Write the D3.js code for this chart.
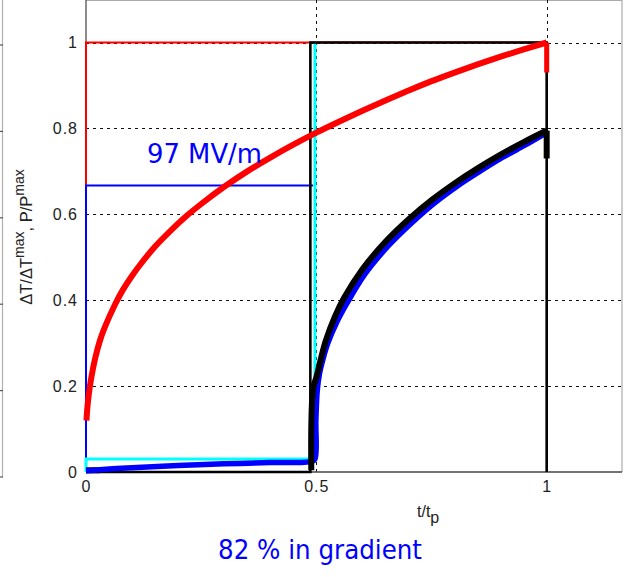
<!DOCTYPE html>
<html>
<head>
<meta charset="utf-8">
<script src="https://cdn.jsdelivr.net/npm/d3@7"></script>
<style>
  body { margin: 0; background: #fff; }
  svg { display: block; }
</style>
</head>
<body>
<div id="chart"></div>
<script>
// tick values
const xTicks = [0, 0.5, 1];
const yTicks = [0, 0.2, 0.4, 0.6, 0.8, 1];

// thin lines : pulse shapes (P/Pmax)
const redPulseT = [0, 0, 1];
const redPulseV = [0, 1, 1];
const bluePulseT = [0, 0, 0.493];
const bluePulseV = [0, 0.667, 0.667];
const cyanPulseT = [0, 0, 0.497, 0.497];
const cyanPulseV = [0, 0.03, 0.03, 1];
const blackPulseT = [0, 0.487, 0.487, 1, 1];
const blackPulseV = [0, 0, 1, 1, 0];

// thick lines : temperature rise (dT/dTmax)
const redCurveT = [0.001, 0.003, 0.006, 0.01, 0.02, 0.03, 0.04, 0.063, 0.08, 0.1, 0.12, 0.15, 0.18, 0.218, 0.25, 0.3, 0.35, 0.4, 0.45, 0.5, 0.55, 0.6, 0.65, 0.7, 0.75, 0.8, 0.85, 0.9, 0.95, 1];
const redCurveV = [0.12, 0.15, 0.18, 0.21, 0.265, 0.305, 0.335, 0.39, 0.424, 0.457, 0.486, 0.525, 0.558, 0.596, 0.624, 0.664, 0.70, 0.732, 0.762, 0.79, 0.816, 0.841, 0.865, 0.888, 0.91, 0.93, 0.949, 0.967, 0.984, 1];
// drop at the end of the pulse
const redDropT = [1, 1];
const redDropV = [1, 0.93];

const blueCurveT = [0, 0.05, 0.1, 0.2, 0.3, 0.4, 0.49, 0.497, 0.499, 0.502, 0.507, 0.515, 0.525, 0.545, 0.565, 0.605, 0.655, 0.705, 0.755, 0.805, 0.855, 0.905, 0.955, 1];
const blueCurveV = [0.003, 0.007, 0.01, 0.015, 0.019, 0.022, 0.025, 0.03, 0.12, 0.19, 0.23, 0.265, 0.30, 0.35, 0.39, 0.46, 0.525, 0.578, 0.625, 0.665, 0.70, 0.733, 0.762, 0.79];

const blackCurveT = [0.489, 0.489, 0.491, 0.494, 0.5, 0.51, 0.52, 0.54, 0.56, 0.6, 0.65, 0.7, 0.75, 0.8, 0.85, 0.9, 0.95, 1];
const blackCurveV = [0.004, 0.1, 0.17, 0.2, 0.22, 0.264, 0.304, 0.361, 0.405, 0.472, 0.536, 0.588, 0.633, 0.672, 0.707, 0.739, 0.768, 0.795];
const blackDropT = [1, 1];
const blackDropV = [0.795, 0.73];
// short black piece visible at the start, under the blue
const blackStartT = [0, 0.03];
const blackStartV = [0.004, 0.004];

const width = 625, height = 577;
const plot = { left: 86, right: 622, top: -0.45, bottom: 472 };

const svg = d3.select('#chart')
  .append('svg')
  .attr('width', width)
  .attr('height', height);

const x = d3.scaleLinear()
  .domain([0, 1.1635])
  .range([plot.left, plot.right]);

const y = d3.scaleLinear()
  .domain([0, 1.1])
  .range([plot.bottom, plot.top]);

const zip = (ts, vs) => ts.map((t, i) => [t, vs[i]]);
const line = d3.line().x(d => x(d[0])).y(d => y(d[1]));
const smooth = d3.line().x(d => x(d[0])).y(d => y(d[1])).curve(d3.curveCatmullRom.alpha(0.5));

// frame of the neighbouring (cropped) axes on the far left
svg.append('line')
  .attr('x1', 2.5).attr('x2', 2.5).attr('y1', 0).attr('y2', 477)
  .attr('stroke', '#b0b0b0').attr('stroke-width', 1.2);
svg.append('g')
  .selectAll('line')
  .data([45, 131.4, 217.8, 304.2, 390.6, 477])
  .join('line')
  .attr('x1', 0).attr('x2', 3).attr('y1', d => d).attr('y2', d => d)
  .attr('stroke', '#555').attr('stroke-width', 1.2);

// axes box (top + right light grey)
svg.append('line')
  .attr('x1', plot.left).attr('x2', plot.right).attr('y1', 0.5).attr('y2', 0.5)
  .attr('stroke', '#aaa');
svg.append('line')
  .attr('x1', plot.right).attr('x2', plot.right).attr('y1', 0).attr('y2', plot.bottom)
  .attr('stroke', '#aaa').attr('stroke-width', 1.2);

// grid
const grid = svg.append('g')
  .attr('stroke', '#111')
  .attr('stroke-width', 1)
  .attr('stroke-dasharray', '3,4');
grid.selectAll('.hg')
  .data(yTicks.filter(d => d > 0))
  .join('line')
  .attr('x1', plot.left).attr('x2', plot.right)
  .attr('y1', d => Math.round(y(d)) + 0.5).attr('y2', d => Math.round(y(d)) + 0.5);
grid.selectAll('.vg')
  .data(xTicks.filter(d => d > 0))
  .join('line')
  .attr('class', 'vg')
  .attr('x1', d => Math.round(x(d)) + 0.5).attr('x2', d => Math.round(x(d)) + 0.5)
  .attr('y1', 0).attr('y2', plot.bottom);

// axis lines
svg.append('line')
  .attr('x1', plot.left).attr('x2', plot.left).attr('y1', 0).attr('y2', plot.bottom)
  .attr('stroke', '#666').attr('stroke-width', 1.5);
svg.append('line')
  .attr('x1', plot.left).attr('x2', plot.right).attr('y1', plot.bottom).attr('y2', plot.bottom)
  .attr('stroke', '#444').attr('stroke-width', 1.5);

// tick labels
const yAxis = svg.append('g')
  .attr('transform', `translate(${plot.left}, 0)`)
  .call(d3.axisLeft(y).tickValues(yTicks).tickSize(0).tickPadding(8).tickFormat(d => d));
yAxis.select('.domain').remove();
yAxis.selectAll('text')
  .attr('font-family', 'Liberation Sans, Arial, sans-serif')
  .attr('font-size', 16)
  .attr('letter-spacing', 1)
  .attr('fill', '#222');

const xAxis = svg.append('g')
  .attr('transform', `translate(0, ${plot.bottom})`)
  .call(d3.axisBottom(x).tickValues(xTicks).tickSize(0).tickPadding(9).tickFormat(d => d));
xAxis.select('.domain').remove();
xAxis.selectAll('text')
  .attr('font-family', 'Liberation Sans, Arial, sans-serif')
  .attr('font-size', 16)
  .attr('letter-spacing', 1)
  .attr('fill', '#222');

// thin pulse lines
const pulses = [
  { t: redPulseT, v: redPulseV, c: '#ff0000', w: 2 },
  { t: bluePulseT, v: bluePulseV, c: '#0000ff', w: 2 },
  { t: cyanPulseT, v: cyanPulseV, c: '#00ffff', w: 3 },
  { t: blackPulseT, v: blackPulseV, c: '#000000', w: 2.6 }
];
svg.append('g')
  .selectAll('path')
  .data(pulses)
  .join('path')
  .attr('d', d => line(zip(d.t, d.v)))
  .attr('fill', 'none')
  .attr('stroke', d => d.c)
  .attr('stroke-width', d => d.w);

// thick temperature curves
const curves = [
  { t: blackStartT, v: blackStartV, c: '#000000', w: 6, s: false },
  { t: blueCurveT, v: blueCurveV, c: '#0000ff', w: 5.5, s: true },
  { t: blackCurveT, v: blackCurveV, c: '#000000', w: 6, s: true },
  { t: blackDropT, v: blackDropV, c: '#000000', w: 6, s: false },
  { t: redCurveT, v: redCurveV, c: '#ff0000', w: 6, s: true },
  { t: redDropT, v: redDropV, c: '#ff0000', w: 5, s: false }
];
svg.append('g')
  .selectAll('path')
  .data(curves)
  .join('path')
  .attr('d', d => (d.s ? smooth : line)(zip(d.t, d.v)))
  .attr('fill', 'none')
  .attr('stroke', d => d.c)
  .attr('stroke-width', d => d.w)
  .attr('stroke-linejoin', 'round');

// annotations
const comic = '"Comic Sans MS", "DejaVu Sans", sans-serif';
svg.append('text')
  .attr('x', 147).attr('y', 163)
  .attr('font-family', comic)
  .attr('font-size', 26)
  .attr('fill', '#0000ff')
  .attr('textLength', 115)
  .attr('lengthAdjust', 'spacingAndGlyphs')
  .text('97 MV/m');

svg.append('text')
  .attr('x', 218).attr('y', 559)
  .attr('font-family', comic)
  .attr('font-size', 27)
  .attr('fill', '#0000ff')
  .attr('textLength', 204)
  .attr('lengthAdjust', 'spacingAndGlyphs')
  .text('82 % in gradient');

// axis titles
const xl = svg.append('text')
  .attr('x', 417).attr('y', 517)
  .attr('font-family', 'Liberation Sans, Arial, sans-serif')
  .attr('font-size', 16)
  .attr('fill', '#222');
xl.append('tspan').text('t/t');
xl.append('tspan').attr('dy', 6).text('p');

const yl = svg.append('text')
  .attr('transform', 'translate(32, 237) rotate(-90)')
  .attr('text-anchor', 'middle')
  .attr('font-family', 'Liberation Sans, Arial, sans-serif')
  .attr('font-size', 16.5)
  .attr('fill', '#222');
yl.append('tspan').text('\u0394T/\u0394T');
yl.append('tspan').attr('dy', -8).attr('font-size', 14).text('max');
yl.append('tspan').attr('dy', 8).text(', P/P');
yl.append('tspan').attr('dy', -8).attr('font-size', 14).text('max');
</script>
</body>
</html>
